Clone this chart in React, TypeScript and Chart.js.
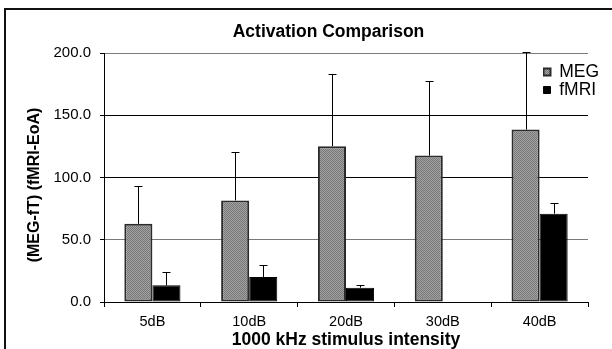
import { useEffect, useRef } from 'react';
import { Chart, registerables } from 'chart.js';

Chart.register(...registerables);

const categories = ['5dB', '10dB', '20dB', '30dB', '40dB'];
const megValues = [62.8, 81.6, 125.1, 117.6, 138.5];
const megErrors = [30.6, 39.2, 58.0, 60.1, 62.3];
const fmriValues: (number | null)[] = [13.4, 20.1, 11.5, null, 70.9];
const fmriErrors: (number | null)[] = [10.8, 9.7, 2.5, null, 8.8];
const yTicks = [0, 50, 100, 150, 200];

const chartTitle = 'Activation Comparison';
const xTitle = '1000 kHz stimulus intensity';
const yTitle = '(MEG-fT) (fMRI-EoA)';

const FONT = "'Liberation Sans', Arial, Helvetica, sans-serif";

function makePattern(): CanvasPattern | string {
  const c = document.createElement('canvas');
  c.width = 2;
  c.height = 2;
  const g = c.getContext('2d');
  if (!g) return '#8c8c8c';
  g.fillStyle = '#a4a4a4';
  g.fillRect(0, 0, 2, 2);
  g.fillStyle = '#767676';
  g.fillRect(0, 0, 1, 1);
  g.fillRect(1, 1, 1, 1);
  return g.createPattern(c, 'repeat') || '#8c8c8c';
}

const errorBarPlugin = {
  id: 'errorBars',
  afterDatasetsDraw(chart: any) {
    const ctx = chart.ctx;
    const yScale = chart.scales.y;
    const errs = [megErrors, fmriErrors];
    chart.data.datasets.forEach((ds: any, di: number) => {
      const meta = chart.getDatasetMeta(di);
      meta.data.forEach((el: any, i: number) => {
        const v = ds.data[i];
        const e = errs[di][i];
        if (v == null || e == null) return;
        const x = Math.round(el.x) + 0.5;
        const yb = yScale.getPixelForValue(v);
        const yt = Math.round(yScale.getPixelForValue(v + e)) + 0.5;
        ctx.save();
        ctx.strokeStyle = '#000';
        ctx.lineWidth = 1;
        ctx.beginPath();
        ctx.moveTo(x, yb);
        ctx.lineTo(x, yt);
        ctx.moveTo(x - 4, yt);
        ctx.lineTo(x + 4, yt);
        ctx.stroke();
        ctx.restore();
      });
    });
  },
};

const layoutPlugin = {
  id: 'placeLegendAndYTitle',
  afterLayout(chart: any) {
    const lg = chart.legend;
    if (!lg) return;
    const w = lg.width;
    lg.left = 543;
    lg.right = lg.left + w;
    lg.top = 62.75;
    lg.bottom = lg.top + 80;
  },
  afterDraw(chart: any) {
    const ctx = chart.ctx;
    const area = chart.chartArea;
    ctx.save();
    ctx.translate(35, (area.top + area.bottom) / 2 + 7.5);
    ctx.rotate(-Math.PI / 2);
    ctx.font = `bold 16px ${FONT}`;
    ctx.fillStyle = '#000';
    ctx.textAlign = 'center';
    ctx.textBaseline = 'middle';
    ctx.fillText(yTitle, 0, 0);
    ctx.restore();
  },
};

export default function App() {
  const ref = useRef<HTMLCanvasElement | null>(null);

  useEffect(() => {
    document.body.style.margin = '0';
    document.body.style.overflow = 'hidden';
    const canvas = ref.current;
    if (!canvas) return;
    const pattern = makePattern();
    const chart = new Chart(canvas, {
      type: 'bar',
      data: {
        labels: categories,
        datasets: [
          {
            label: 'MEG',
            data: megValues,
            backgroundColor: pattern as any,
            borderColor: '#2b2b2b',
            borderWidth: 2,
            borderSkipped: false,
            barPercentage: 1,
            categoryPercentage: 0.58,
          },
          {
            label: 'fMRI',
            data: fmriValues,
            backgroundColor: '#000',
            borderColor: '#000',
            borderWidth: 1,
            borderSkipped: false,
            barPercentage: 1,
            categoryPercentage: 0.58,
          },
        ],
      },
      options: {
        animation: false,
        responsive: false,
        devicePixelRatio: 1,
        layout: { padding: { left: 45, right: 0, top: 0, bottom: 0 } },
        plugins: {
          title: {
            display: true,
            text: chartTitle,
            color: '#000',
            font: { family: FONT, size: 17.5, weight: 'bold', lineHeight: 1.2 },
            padding: { top: 22, bottom: 10 },
          },
          legend: {
            position: 'chartArea' as any,
            align: 'start',
            labels: {
              boxWidth: 7,
              boxHeight: 7,
              padding: 0.5,
              color: '#000',
              font: { family: FONT, size: 17.5 },
            },
          },
          tooltip: { enabled: false },
        },
        scales: {
          x: {
            grid: {
              display: true,
              drawOnChartArea: false,
              drawTicks: true,
              tickLength: 5,
              tickColor: '#000',
              offset: true,
            },
            border: { display: true, color: '#000', width: 1 },
            ticks: {
              color: '#000',
              font: { family: FONT, size: 14.5 },
              padding: 6,
              maxRotation: 0,
              autoSkip: false,
            },
            title: {
              display: true,
              text: xTitle,
              color: '#000',
              font: { family: FONT, size: 17.5, weight: 'bold', lineHeight: 1 },
              padding: { top: 0, bottom: 0.5 },
            },
            afterFit: (s: any) => {
              s.height = 47;
            },
          },
          y: {
            min: 0,
            max: 200,
            afterBuildTicks: (s: any) => {
              s.ticks = yTicks.map((v) => ({ value: v }));
            },
            ticks: {
              color: '#000',
              font: { family: FONT, size: 15 },
              padding: 9,
              callback: (v: any) => Number(v).toFixed(1),
            },
            grid: {
              color: (c: any) =>
                c.tick && (c.tick.value === 200 || c.tick.value === 50) ? '#7a7a7a' : '#000',
              tickColor: '#000',
              tickLength: 4,
              lineWidth: 1,
            },
            border: { display: true, color: '#000', width: 1 },
            afterFit: (s: any) => {
              s.width = 59;
            },
          },
          rightSpace: {
            type: 'linear',
            position: 'right',
            display: true,
            grid: { display: false, drawTicks: false },
            border: { display: false },
            ticks: { display: false },
            afterFit: (s: any) => {
              s.width = 24;
            },
          },
        },
      },
      plugins: [errorBarPlugin, layoutPlugin],
    });
    return () => chart.destroy();
  }, []);

  return (
    <div style={{ position: 'relative', width: 612, height: 349, overflow: 'hidden', background: '#fff' }}>
      <div
        style={{
          position: 'absolute',
          left: 4,
          top: 8,
          width: 700,
          height: 400,
          borderLeft: '2px solid #111',
          borderTop: '2px solid #111',
        }}
      />
      <canvas ref={ref} width={612} height={349} style={{ position: 'absolute', left: 0, top: 0 }} />
    </div>
  );
}
